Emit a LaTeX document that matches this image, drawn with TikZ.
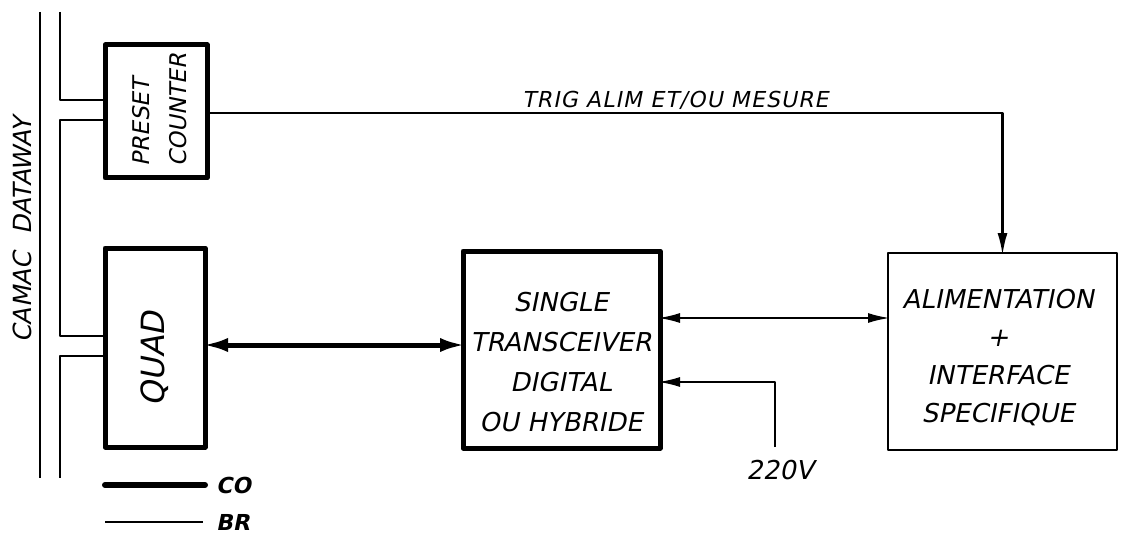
\documentclass[tikz,border=0pt]{standalone}
\usepackage{fontspec}
\setmainfont{DejaVu Sans}[FakeSlant=0.2]
\usetikzlibrary{arrows.meta}
\begin{document}
\begin{tikzpicture}[x=1pt,y=-1pt,line join=round,
  thickbox/.style={draw, line width=5pt, inner sep=0pt, outer sep=0pt},
  thinbox/.style={draw, line width=2.2pt, inner sep=0pt, outer sep=0pt},
  bus/.style={line width=2.2pt},
  sig/.style={line width=2.2pt, -{Latex[length=22pt,width=10pt]}, shorten >=-2pt},
  sigboth/.style={line width=2.2pt, {Latex[length=22pt,width=10pt]}-{Latex[length=22pt,width=10pt]}, shorten >=-2pt, shorten <=-2pt},
  cosig/.style={line width=5pt, {Latex[length=26pt,width=14pt]}-{Latex[length=26pt,width=14pt]}, shorten >=-3pt, shorten <=-3pt},
  lbl/.style={font=\fontsize{26}{40}\selectfont, inner sep=0pt},
  small/.style={font=\bfseries\fontsize{22}{24}\selectfont, inner sep=0pt}]
\useasboundingbox (0,0) rectangle (1121,540);

% boxes
\node[thickbox, minimum width=102pt, minimum height=133pt] (preset) at (156,111.5) {};
\node[thickbox, minimum width=100pt, minimum height=199pt] (quad) at (155,347.5) {};
\node[thickbox, minimum width=197pt, minimum height=197pt] (trans) at (561.5,349.5) {};
\node[thinbox, minimum width=229pt, minimum height=197pt] (alim) at (1002.5,351.5) {};

% texts
\node[lbl, rotate=90, align=left, font=\fontsize{23}{37}\selectfont] (presettxt) at (160,110) {PRESET\\COUNTER};
\node[lbl, rotate=90, font=\fontsize{32}{38}\selectfont] (quadtxt) at (155,359) {QUAD};
\node[lbl, rotate=90, font=\fontsize{25}{30}\selectfont] (camac) at (22,230) {CAMAC\hspace{18pt}DATAWAY};
\node[lbl, align=center] (transtxt) at (561,362) {SINGLE\\TRANSCEIVER\\DIGITAL\\OU HYBRIDE};
\node[lbl, align=center, font=\fontsize{26}{38}\selectfont] (alimtxt) at (998,358) {ALIMENTATION\\+\\INTERFACE\\SPECIFIQUE};
\node[lbl, anchor=base west, font=\addfontfeature{LetterSpace=5}\fontsize{22}{24}\selectfont] (trig) at (522,108) {TRIG ALIM ET/OU MESURE};

% bus lines
\coordinate (camactop) at (40,12);
\coordinate (camacbot) at (40,478);
\draw[bus] (camactop) -- (camacbot);
\coordinate (bustop) at (60,12);
\coordinate (busbot) at (60,478);
\draw[bus] (bustop) |- (preset.west |- 0,100);
\draw[bus] (preset.west |- 0,120) -| (60,336) -- (quad.west |- 0,336);
\draw[bus] (quad.west |- 0,356) -| (busbot);

% signals
\draw[sig] (preset.east |- 0,113) -| (alim.north);
\draw[cosig] (quad.east |- 0,345) -- (trans.west |- 0,345);
\draw[sigboth] (trans.east |- 0,318) -- (alim.west |- 0,318);
\coordinate (mains) at (775,447);
\draw[sig] (mains) |- (trans.east |- 0,382);
\node[lbl] (volt) at (780,470) {220V};

% legend
\coordinate (co1) at (105,485);
\coordinate (co2) at (205,485);
\draw[line width=6pt, line cap=round] (co1) -- (co2);
\node[small, anchor=west] (cotxt) at (216,485) {CO};
\coordinate (br1) at (105,522);
\coordinate (br2) at (203,522);
\draw[line width=2pt] (br1) -- (br2);
\node[small, anchor=west] (brtxt) at (216,522) {BR};
\end{tikzpicture}
\end{document}
